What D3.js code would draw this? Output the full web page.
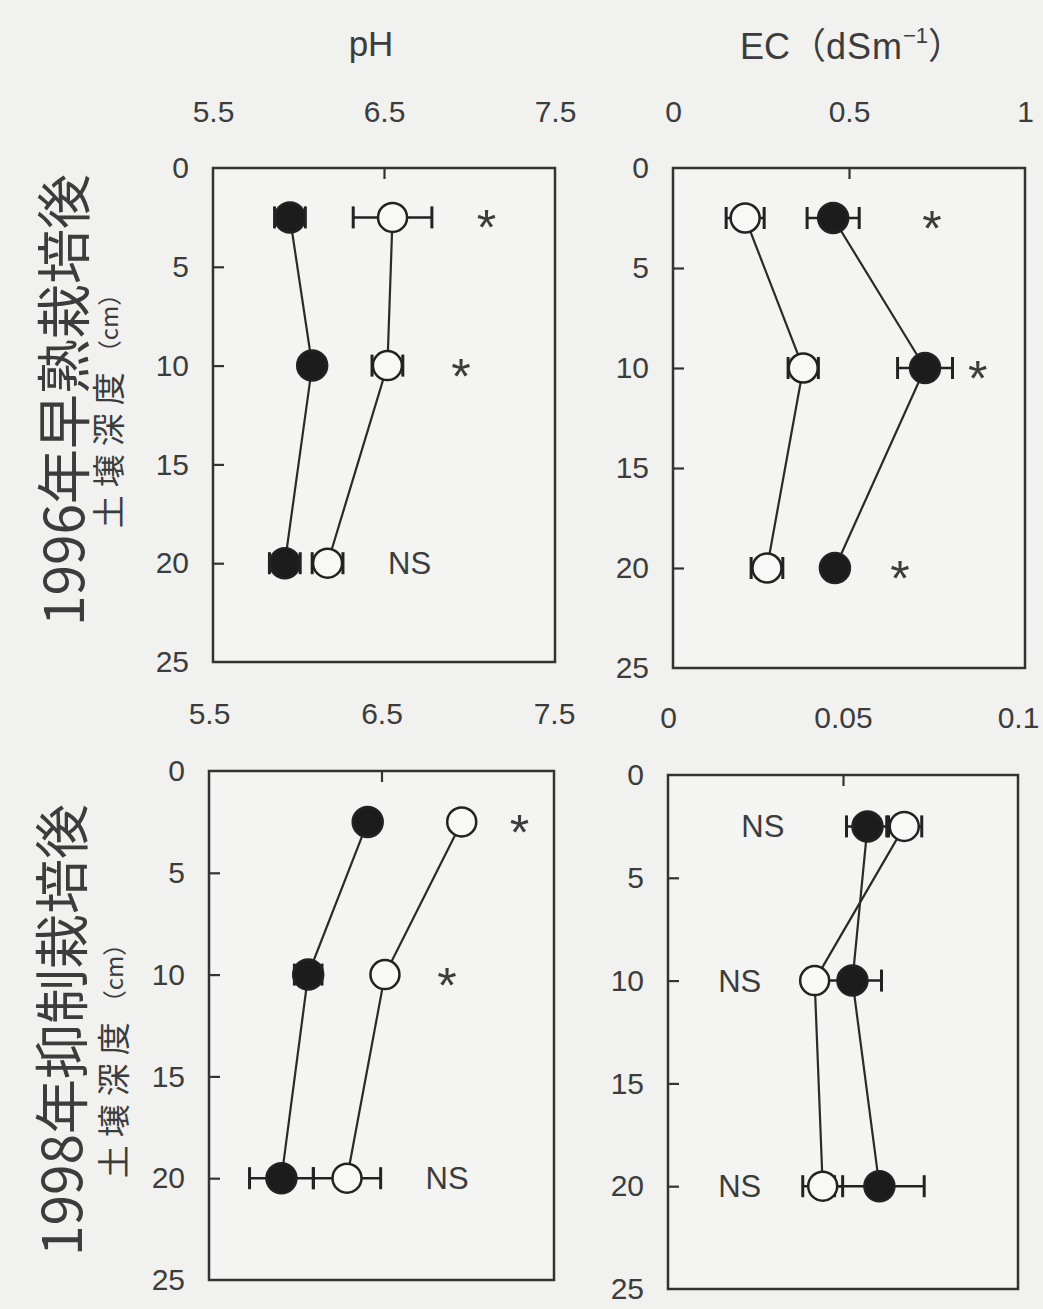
<!DOCTYPE html>
<html><head><meta charset="utf-8">
<script src="https://cdn.jsdelivr.net/npm/d3@7"></script>
<style>
body{margin:0;background:#f1f1ef}
text{font-family:"Liberation Sans",Arial,sans-serif;fill:#3c3c3c}
.cjk{font-family:"Noto Sans CJK JP",sans-serif}
</style></head>
<body><svg id="c" width="1043" height="1309"></svg>
<script>
// ---- data ----
const depths = [2.5, 10, 20];
const depthTicks = [0, 5, 10, 15, 20, 25];
const innerDepthTicks = [5, 10, 15, 20];
const phTicks = [5.5, 6.5, 7.5];
const ec96Ticks = [0, 0.5, 1];
const ec98Ticks = [0, 0.05, 0.1];

const ph96Filled = [5.95, 6.08, 5.92];
const ph96FilledErr = [0.09, 0.03, 0.09];
const ph96Open = [6.55, 6.52, 6.17];
const ph96OpenErr = [0.23, 0.09, 0.09];

const ec96Filled = [0.455, 0.716, 0.46];
const ec96FilledErr = [0.074, 0.078, 0.02];
const ec96Open = [0.205, 0.37, 0.267];
const ec96OpenErr = [0.054, 0.043, 0.045];

const ph98Filled = [6.42, 6.075, 5.92];
const ph98FilledErr = [0.03, 0.08, 0.185];
const ph98Open = [6.965, 6.52, 6.30];
const ph98OpenErr = [0.03, 0.03, 0.195];

const ec98Filled = [0.057, 0.0527, 0.0604];
const ec98FilledErr = [0.006, 0.0083, 0.0128];
const ec98Open = [0.0675, 0.0419, 0.0442];
const ec98OpenErr = [0.005, 0.002, 0.0057];

const sig96pH = [{d: 2.5, v: 7.10, t: "*"}, {d: 10, v: 6.95, t: "*"}, {d: 20, v: 6.65, t: "NS"}];
const sig96EC = [{d: 2.5, v: 0.736, t: "*"}, {d: 10, v: 0.866, t: "*"}, {d: 20, v: 0.645, t: "*"}];
const sig98pH = [{d: 2.5, v: 7.30, t: "*"}, {d: 10, v: 6.88, t: "*"}, {d: 20, v: 6.88, t: "NS"}];
const sig98EC = [{d: 2.5, v: 0.0271, t: "NS"}, {d: 10, v: 0.0205, t: "NS"}, {d: 20, v: 0.0205, t: "NS"}];

const rowTitles = ["1996年早熟栽培後", "1998年抑制栽培後"];
const depthLabel = "土壌深度";
const depthUnit = "（cm）";
const colTitles = ["pH", "EC"];

// ---- layout ----
const svg = d3.select("#c");
svg.append("rect").attr("width", 1043).attr("height", 1309).attr("fill", "#f1f1ef");

const panels = [
  {x0: 213, x1: 555, y0: 168, y1: 662, dom: [5.5, 7.5], ticks: phTicks, labY: 122,
   f: ph96Filled, fe: ph96FilledErr, o: ph96Open, oe: ph96OpenErr, sig: sig96pH},
  {x0: 673, x1: 1025, y0: 168, y1: 668, dom: [0, 1], ticks: ec96Ticks, labY: 122,
   f: ec96Filled, fe: ec96FilledErr, o: ec96Open, oe: ec96OpenErr, sig: sig96EC},
  {x0: 209, x1: 554, y0: 771, y1: 1280, dom: [5.5, 7.5], ticks: phTicks, labY: 724,
   f: ph98Filled, fe: ph98FilledErr, o: ph98Open, oe: ph98OpenErr, sig: sig98pH},
  {x0: 668, x1: 1018, y0: 775, y1: 1289, dom: [0, 0.1], ticks: ec98Ticks, labY: 728,
   f: ec98Filled, fe: ec98FilledErr, o: ec98Open, oe: ec98OpenErr, sig: sig98EC}
];

const ink = "#222";
panels.forEach(p => {
  const x = d3.scaleLinear().domain(p.dom).range([p.x0, p.x1]);
  const y = d3.scaleLinear().domain([0, 25]).range([p.y0, p.y1]);
  const g = svg.append("g");

  // frame
  g.append("rect").attr("x", p.x0).attr("y", p.y0)
    .attr("width", p.x1 - p.x0).attr("height", p.y1 - p.y0)
    .attr("fill", "#f4f4f2").attr("stroke", "#333").attr("stroke-width", 2.5);

  // y labels
  const ay = g.append("g").attr("transform", `translate(${p.x0},0)`)
    .call(d3.axisLeft(y).tickValues(depthTicks).tickSize(0).tickPadding(24).tickFormat(d => String(d)));
  ay.select(".domain").remove();
  ay.selectAll("text").attr("font-size", 30).attr("fill", "#3c3c3c")
    .style("font-family", '"Liberation Sans",Arial,sans-serif');

  // inner y ticks
  const ay2 = g.append("g").attr("transform", `translate(${p.x0},0)`)
    .call(d3.axisRight(y).tickValues(innerDepthTicks).tickSize(11).tickFormat(""));
  ay2.select(".domain").remove();
  ay2.selectAll("line").attr("stroke", "#333").attr("stroke-width", 2.2);

  // top labels
  const ax = g.append("g").attr("transform", `translate(0,${p.y0})`)
    .call(d3.axisTop(x).tickValues(p.ticks).tickSize(0).tickPadding(p.y0 - p.labY).tickFormat(d => String(d)));
  ax.select(".domain").remove();
  ax.selectAll("text").attr("font-size", 30).attr("fill", "#3c3c3c")
    .style("font-family", '"Liberation Sans",Arial,sans-serif');

  // inner top tick at middle value
  const ax2 = g.append("g").attr("transform", `translate(0,${p.y0})`)
    .call(d3.axisBottom(x).tickValues([p.ticks[1]]).tickSize(11).tickFormat(""));
  ax2.select(".domain").remove();
  ax2.selectAll("line").attr("stroke", "#333").attr("stroke-width", 2.2);

  const series = [
    {v: p.f, e: p.fe, fill: "#1c1c1c", r: 15},
    {v: p.o, e: p.oe, fill: "#f8f8f6", r: 14.5}
  ];
  const line = d3.line().x(d => x(d[1])).y(d => y(d[0]));
  series.forEach(s => {
    g.append("path").datum(depths.map((d, i) => [d, s.v[i]]))
      .attr("d", line).attr("fill", "none").attr("stroke", "#2a2a2a").attr("stroke-width", 2.2);
  });
  series.forEach(s => {
    depths.forEach((d, i) => {
      const cy = y(d), xl = x(s.v[i] - s.e[i]), xr = x(s.v[i] + s.e[i]);
      g.append("line").attr("x1", xl).attr("x2", xr).attr("y1", cy).attr("y2", cy)
        .attr("stroke", ink).attr("stroke-width", 2.5);
      [xl, xr].forEach(xx => g.append("line").attr("x1", xx).attr("x2", xx)
        .attr("y1", cy - 11).attr("y2", cy + 11).attr("stroke", ink).attr("stroke-width", 3));
    });
  });
  series.forEach(s => {
    g.selectAll(null).data(depths.map((d, i) => [d, s.v[i]])).enter().append("circle")
      .attr("cx", d => x(d[1])).attr("cy", d => y(d[0])).attr("r", s.r)
      .attr("fill", s.fill).attr("stroke", ink).attr("stroke-width", 2.5);
  });

  // significance labels
  p.sig.forEach(s => {
    const isStar = s.t === "*";
    g.append("text").attr("x", x(s.v)).attr("y", y(s.d) + (isStar ? 28 : 11))
      .attr("text-anchor", "middle").attr("font-size", isStar ? 50 : 31).text(s.t);
  });
});

// column titles
svg.append("text").attr("x", 371).attr("y", 56).attr("text-anchor", "middle")
  .attr("font-size", 35).text(colTitles[0]);
const ec = svg.append("text").attr("x", 852).attr("y", 59).attr("text-anchor", "middle")
  .attr("font-size", 36);
ec.append("tspan").text(colTitles[1]);
ec.append("tspan").attr("class", "cjk").style("font-family", '"Noto Sans CJK JP",sans-serif').text("（");
ec.append("tspan").attr("letter-spacing", 1).text("dSm");
ec.append("tspan").attr("font-size", 22).attr("dy", -16).text("−1");
ec.append("tspan").attr("class", "cjk").style("font-family", '"Noto Sans CJK JP",sans-serif').attr("dy", 16).text("）");

// row titles
const rows = [{cx: 60, cy: 400, sx: 107, sy: 405}, {cx: 58, cy: 1030, sx: 112, sy: 1055}];
rows.forEach((r, i) => {
  svg.append("text").attr("class", "cjk")
    .attr("transform", `translate(${r.cx},${r.cy}) rotate(-90)`)
    .attr("text-anchor", "middle").attr("dominant-baseline", "central")
    .attr("font-size", 55).attr("fill", "#3c3c3c")
    .style("font-family", '"Noto Sans CJK JP",sans-serif').text(rowTitles[i]);
  const t = svg.append("text").attr("class", "cjk")
    .attr("transform", `translate(${r.sx},${r.sy}) rotate(-90)`)
    .attr("text-anchor", "middle").attr("dominant-baseline", "central")
    .style("font-family", '"Noto Sans CJK JP",sans-serif');
  t.append("tspan").attr("font-size", 33).attr("letter-spacing", 8).text(depthLabel);
  t.append("tspan").attr("font-size", 24).text(depthUnit);
});
</script>
</body></html>
